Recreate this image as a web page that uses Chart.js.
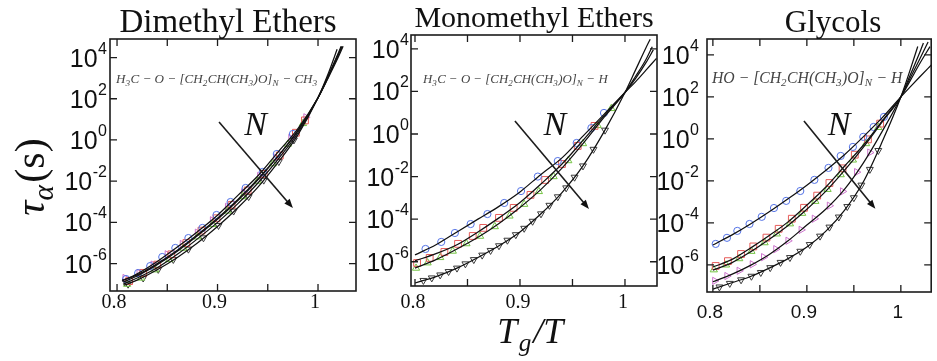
<!DOCTYPE html>
<html>
<head>
<meta charset="utf-8">
<script src="https://cdn.jsdelivr.net/npm/chart.js"></script>
<style>
  html, body { margin: 0; padding: 0; background: #fff; }
  #wrap { position: relative; width: 937px; height: 361px; overflow: hidden; }
  #wrap canvas { position: absolute; left: 0; top: 0; }
</style>
</head>
<body>
<div id="wrap">
  <canvas id="dme" width="937" height="361"></canvas>
  <canvas id="mme" width="937" height="361"></canvas>
  <canvas id="gly" width="937" height="361"></canvas>
</div>
<script>
// ---- data (y values are log10 of tau_alpha in seconds, x is Tg/T) ----
const panelTitles = ['Dimethyl Ethers', 'Monomethyl Ethers', 'Glycols'];
const panelFormulas = [
  'H_3C − O − [CH_2CH(CH_3)O]_N − CH_3',
  'H_3C − O − [CH_2CH(CH_3)O]_N − H',
  'HO − [CH_2CH(CH_3)O]_N − H'
];
const xTickValues = [0.8, 0.85, 0.9, 0.95, 1.0];
const xLabelValues = [0.8, 0.9, 1.0];
const xLabelTexts = ['0.8', '0.9', '1'];
const yTickExponents = [4, 2, 0, -2, -4, -6];
const xRanges = [[0.793, 1.0378], [0.7962, 1.0305], [0.79375, 1.0323]];
const yRanges = [[-7.33, 4.90], [-7.14, 4.65], [-7.29, 4.76]];
// arrow "N" annotations, in data units
const arrowFrom = [[0.9015, 0.87], [0.8952, 0.61], [0.8969, 0.86]];
const arrowTo = [[0.975, -3.3], [0.9657, -3.52], [0.9729, -3.33]];
const nLabelAt = [[0.938, 0.24], [0.9333, -0.05], [0.9344, 0.19]];

// Dimethyl ethers: fits
const dmeFitCircle = [[0.805,-6.85],[0.82,-6.5],[0.84,-5.9],[0.86,-5.2],[0.88,-4.45],[0.90,-3.65],[0.92,-2.7],[0.94,-1.75],[0.96,-0.6],[0.98,0.55],[1.0,2.05],[1.01,3.0],[1.02,4.0],[1.025,4.55]];
const dmeFitSquare = [[0.806,-6.9],[0.82,-6.6],[0.84,-6.05],[0.86,-5.4],[0.88,-4.65],[0.90,-3.85],[0.92,-2.95],[0.94,-1.95],[0.96,-0.8],[0.98,0.45],[1.0,2.05],[1.01,3.05],[1.02,4.1],[1.024,4.55]];
const dmeFitTriUp = [[0.806,-7.0],[0.82,-6.7],[0.84,-6.2],[0.86,-5.55],[0.88,-4.8],[0.90,-4.0],[0.92,-3.1],[0.94,-2.1],[0.96,-0.95],[0.98,0.35],[1.0,2.05],[1.01,3.1],[1.02,4.2],[1.023,4.55]];
const dmeFitTriSide = [[0.805,-6.8],[0.82,-6.55],[0.84,-6.0],[0.86,-5.35],[0.88,-4.6],[0.90,-3.8],[0.92,-2.9],[0.94,-1.9],[0.96,-0.8],[0.98,0.45],[1.0,2.05],[1.01,3.05],[1.02,4.15],[1.0235,4.5]];
const dmeFitTriDown = [[0.807,-7.05],[0.82,-6.8],[0.84,-6.3],[0.86,-5.7],[0.88,-5.0],[0.90,-4.2],[0.92,-3.3],[0.94,-2.3],[0.96,-1.1],[0.98,0.25],[1.0,2.05],[1.01,3.2],[1.019,4.4]];
// Dimethyl ethers: measured points
const dmeCircle = [[0.809,-6.75],[0.821,-6.46],[0.833,-6.12],[0.845,-5.68],[0.858,-5.24],[0.871,-4.76],[0.885,-4.27],[0.899,-3.64],[0.913,-3.01],[0.928,-2.33],[0.945,-1.55],[0.959,-0.68],[0.975,0.29]];
const dmeSquare = [[0.812,-6.85],[0.826,-6.45],[0.840,-6.05],[0.854,-5.55],[0.869,-5.0],[0.884,-4.4],[0.899,-3.8],[0.914,-3.15],[0.930,-2.45],[0.946,-1.65],[0.962,-0.75],[0.978,0.35],[0.987,0.95]];
const dmeTriUp = [[0.810,-7.0],[0.824,-6.7],[0.838,-6.3],[0.852,-5.8],[0.866,-5.25],[0.880,-4.7],[0.895,-4.1],[0.910,-3.45],[0.925,-2.75],[0.940,-2.0],[0.955,-1.15],[0.970,-0.2],[0.985,0.8]];
const dmeTriSide = [[0.808,-6.7],[0.822,-6.45],[0.836,-6.05],[0.850,-5.55],[0.865,-5.05],[0.880,-4.5],[0.895,-3.9],[0.910,-3.25],[0.926,-2.55],[0.942,-1.75],[0.958,-0.85],[0.973,0.1],[0.988,1.1]];
const dmeTriDown = [[0.811,-7.0],[0.826,-6.7],[0.841,-6.28],[0.856,-5.8],[0.871,-5.3],[0.886,-4.75],[0.901,-4.15],[0.916,-3.45],[0.931,-2.75],[0.946,-1.95],[0.961,-1.05],[0.976,0.0]];

// Monomethyl ethers: fits
const mmeFitCircle = [[0.80,-5.68],[0.82,-5.2],[0.84,-4.6],[0.86,-4.0],[0.88,-3.4],[0.90,-2.72],[0.92,-1.9],[0.94,-1.12],[0.96,-0.1],[0.98,0.92],[1.0,1.95],[1.01,2.45],[1.02,3.0],[1.03,3.55]];
const mmeFitSquare = [[0.80,-5.96],[0.82,-5.62],[0.84,-5.2],[0.86,-4.6],[0.88,-3.94],[0.90,-3.22],[0.92,-2.35],[0.94,-1.41],[0.96,-0.3],[0.98,0.85],[1.0,1.95],[1.01,2.6],[1.02,3.35],[1.027,3.95]];
const mmeFitTriUp = [[0.80,-6.3],[0.82,-5.9],[0.84,-5.4],[0.86,-4.85],[0.88,-4.2],[0.90,-3.45],[0.92,-2.6],[0.94,-1.6],[0.96,-0.45],[0.98,0.78],[1.0,1.95],[1.01,2.7],[1.02,3.5],[1.026,4.1]];
const mmeFitTriDown = [[0.80,-7.0],[0.82,-6.7],[0.84,-6.3],[0.86,-5.8],[0.88,-5.25],[0.90,-4.6],[0.92,-3.75],[0.94,-2.75],[0.96,-1.5],[0.98,0.1],[1.0,1.95],[1.01,3.0],[1.02,4.05],[1.024,4.45]];
// Monomethyl ethers: measured points
const mmeCircle = [[0.810,-5.4],[0.825,-5.07],[0.838,-4.65],[0.853,-4.23],[0.869,-3.76],[0.885,-3.24],[0.901,-2.68],[0.917,-2.0],[0.936,-1.27],[0.954,-0.42],[0.968,0.28],[0.980,0.99]];
const mmeSquare = [[0.802,-6.06],[0.814,-5.82],[0.828,-5.54],[0.841,-5.16],[0.855,-4.79],[0.865,-4.41],[0.880,-3.94],[0.894,-3.47],[0.910,-2.86],[0.924,-2.16],[0.940,-1.41],[0.955,-0.56],[0.971,0.38]];
const mmeTriUp = [[0.801,-6.3],[0.812,-6.05],[0.824,-5.8],[0.836,-5.5],[0.849,-5.15],[0.862,-4.8],[0.876,-4.35],[0.890,-3.85],[0.904,-3.3],[0.918,-2.7],[0.932,-2.0],[0.946,-1.25],[0.960,-0.45],[0.974,0.4],[0.987,1.2]];
const mmeTriDown = [[0.808,-6.88],[0.816,-6.76],[0.824,-6.62],[0.832,-6.46],[0.840,-6.3],[0.848,-6.1],[0.856,-5.9],[0.864,-5.69],[0.872,-5.47],[0.880,-5.25],[0.888,-4.99],[0.896,-4.73],[0.904,-4.43],[0.912,-4.1],[0.920,-3.75],[0.928,-3.35],[0.936,-2.95],[0.944,-2.53],[0.952,-2.03],[0.960,-1.5],[0.970,-0.72],[0.981,0.18]];

// Glycols: fits
const glyFitCircle = [[0.80,-5.05],[0.82,-4.58],[0.84,-4.05],[0.86,-3.47],[0.88,-2.85],[0.90,-2.2],[0.92,-1.5],[0.94,-0.75],[0.96,0.1],[0.98,1.0],[1.0,2.0],[1.01,2.48],[1.02,2.95],[1.033,3.55]];
const glyFitSquare = [[0.80,-6.1],[0.82,-5.75],[0.84,-5.2],[0.86,-4.6],[0.88,-3.95],[0.90,-3.15],[0.92,-2.3],[0.94,-1.3],[0.96,-0.3],[0.98,0.85],[1.0,2.0],[1.01,2.78],[1.02,3.58],[1.031,4.4]];
const glyFitTriUp = [[0.80,-6.25],[0.82,-5.9],[0.84,-5.38],[0.86,-4.78],[0.88,-4.12],[0.90,-3.35],[0.92,-2.5],[0.94,-1.5],[0.96,-0.4],[0.98,0.8],[1.0,2.0],[1.01,2.9],[1.02,3.8],[1.029,4.62]];
const glyFitTriSide = [[0.80,-6.8],[0.82,-6.45],[0.84,-6.02],[0.86,-5.5],[0.88,-4.85],[0.90,-4.1],[0.92,-3.35],[0.94,-2.4],[0.96,-1.15],[0.98,0.35],[1.0,2.0],[1.01,3.05],[1.02,4.1],[1.024,4.57]];
const glyFitTriDown = [[0.80,-7.15],[0.82,-6.85],[0.84,-6.55],[0.86,-6.15],[0.88,-5.7],[0.90,-5.15],[0.92,-4.4],[0.94,-3.4],[0.96,-2.05],[0.98,-0.15],[1.0,2.0],[1.01,3.3],[1.018,4.4]];
// Glycols: measured points
const glyCircle = [[0.803,-5.0],[0.815,-4.71],[0.826,-4.38],[0.839,-4.05],[0.852,-3.71],[0.865,-3.29],[0.878,-2.95],[0.893,-2.48],[0.908,-1.95],[0.923,-1.38],[0.936,-0.81],[0.949,-0.38],[0.960,0.10],[0.971,0.57],[0.982,1.05]];
const glySquare = [[0.803,-6.05],[0.816,-5.82],[0.830,-5.48],[0.843,-5.12],[0.857,-4.7],[0.870,-4.28],[0.884,-3.8],[0.897,-3.28],[0.911,-2.7],[0.924,-2.1],[0.938,-1.4],[0.951,-0.75],[0.965,-0.02],[0.978,0.73]];
const glyTriUp = [[0.801,-6.23],[0.814,-6.0],[0.828,-5.7],[0.841,-5.35],[0.855,-4.94],[0.868,-4.52],[0.882,-4.04],[0.895,-3.54],[0.909,-2.97],[0.922,-2.4],[0.936,-1.7],[0.949,-1.0],[0.963,-0.22],[0.976,0.55]];
const glyTriSide = [[0.802,-6.76],[0.815,-6.53],[0.828,-6.28],[0.842,-5.97],[0.854,-5.63],[0.867,-5.25],[0.880,-4.85],[0.894,-4.33],[0.908,-3.8],[0.924,-3.18],[0.938,-2.5],[0.953,-1.58],[0.967,-0.65]];
const glyTriDown = [[0.807,-7.05],[0.818,-6.88],[0.830,-6.71],[0.841,-6.54],[0.851,-6.36],[0.861,-6.13],[0.872,-5.88],[0.882,-5.65],[0.893,-5.35],[0.903,-5.03],[0.914,-4.63],[0.924,-4.2],[0.934,-3.72],[0.943,-3.22],[0.950,-2.8],[0.958,-2.2],[0.967,-1.45],[0.976,-0.55]];

// ---- styles ----
const W = 937, H = 361;
const SERIF = '"Liberation Serif", "DejaVu Serif", serif';
const SANS = '"Liberation Sans", Arial, sans-serif';
const markerStyles = {
  circle: { color: '#5372e6', pointStyle: 'circle', radius: 3.6, rotation: 0 },
  square: { color: '#e65c5a', pointStyle: 'rect', radius: 4.8, rotation: 0 },
  triUp: { color: '#74c444', pointStyle: 'triangle', radius: 4.2, rotation: 0 },
  triSide: { color: '#cc74cc', pointStyle: 'triangle', radius: 4.2, rotation: 90 },
  triDown: { color: '#3a3a3a', pointStyle: 'triangle', radius: 4.0, rotation: 180 }
};

const toXY = arr => arr.map(p => ({ x: p[0], y: p[1] }));

function fitSet(points) {
  return {
    data: toXY(points), order: 0,
    borderColor: '#111', borderWidth: 1.25, pointRadius: 0,
    fill: false, cubicInterpolationMode: 'monotone'
  };
}
function markerSet(points, kind) {
  const s = markerStyles[kind];
  return {
    data: toXY(points), order: 1, showLine: false,
    pointStyle: s.pointStyle, pointRadius: s.radius, pointRotation: s.rotation,
    pointBorderColor: s.color, pointBackgroundColor: 'rgba(0,0,0,0)', pointBorderWidth: 1
  };
}

// math-like text: "_c" makes the next char a subscript
function mathRuns(str) {
  const runs = [];
  for (let i = 0; i < str.length; i++) {
    if (str[i] === '_') { runs.push({ t: str[i + 1], sub: true }); i++; continue; }
    const last = runs[runs.length - 1];
    if (last && !last.sub) last.t += str[i]; else runs.push({ t: str[i], sub: false });
  }
  return runs;
}
function mathWidth(ctx, runs, size, gap) {
  let w = 0;
  runs.forEach(r => {
    ctx.font = 'italic ' + (r.sub ? size * 0.7 : size) + 'px ' + SERIF;
    w += ctx.measureText(r.t).width + (r.sub ? 0.5 : 0) + (gap || 0);
  });
  return w;
}
function drawMath(ctx, runs, x, y, size, gap) {
  ctx.textAlign = 'left';
  runs.forEach(r => {
    const s = r.sub ? size * 0.7 : size;
    ctx.font = 'italic ' + s + 'px ' + SERIF;
    ctx.fillText(r.t, x, r.sub ? y + size * 0.22 : y);
    x += ctx.measureText(r.t).width + (r.sub ? 0.5 : 0) + (gap || 0);
  });
  return x;
}

function decorPlugin(i, cfg) {
  return {
    id: 'decor',
    afterDraw(chart) {
      const { ctx, chartArea: a, scales: { x, y } } = chart;
      ctx.save();
      ctx.fillStyle = '#111';
      ctx.strokeStyle = '#1c1c1c';

      // frame
      ctx.lineWidth = 1.6;
      ctx.strokeRect(a.left, a.top, a.right - a.left, a.bottom - a.top);

      // inward ticks on all four sides
      ctx.lineWidth = 1.3;
      ctx.beginPath();
      xTickValues.forEach(v => {
        const px = x.getPixelForValue(v);
        ctx.moveTo(px, a.bottom); ctx.lineTo(px, a.bottom - 7);
        ctx.moveTo(px, a.top); ctx.lineTo(px, a.top + 7);
      });
      yTickExponents.forEach(e => {
        const py = y.getPixelForValue(e);
        ctx.moveTo(a.left, py); ctx.lineTo(a.left + 7, py);
        ctx.moveTo(a.right, py); ctx.lineTo(a.right - 7, py);
      });
      ctx.stroke();

      // y tick labels 10^n
      ctx.textBaseline = 'alphabetic';
      yTickExponents.forEach(e => {
        const py = y.getPixelForValue(e);
        const right = a.left - cfg.yLabelGap;
        ctx.font = '16px ' + SANS;
        const sw = ctx.measureText(String(e)).width;
        ctx.textAlign = 'left';
        ctx.fillText(String(e), right - sw, py - 4);
        ctx.font = '25px ' + SANS;
        ctx.textAlign = 'right';
        ctx.fillText('10', right - sw - 0.5, py + 9);
      });

      // x tick labels
      ctx.font = cfg.xFont;
      ctx.textAlign = 'center';
      xLabelValues.forEach((v, k) => {
        ctx.fillText(xLabelTexts[k], x.getPixelForValue(v) + cfg.xLabelDx, a.bottom + cfg.xLabelDy);
      });

      // panel title
      ctx.font = cfg.titleFont;
      ctx.fillText(panelTitles[i], cfg.titleX, cfg.titleY);

      // chemical formula
      const runs = mathRuns(panelFormulas[i]);
      const size = 12 * cfg.formulaWidth / mathWidth(ctx, runs, 12);
      ctx.fillStyle = '#444';
      drawMath(ctx, runs, a.left + cfg.formulaDx, a.top + cfg.formulaDy, size);
      ctx.fillStyle = '#111';

      // arrow with N
      const x0 = x.getPixelForValue(arrowFrom[i][0]), y0 = y.getPixelForValue(arrowFrom[i][1]);
      const x1 = x.getPixelForValue(arrowTo[i][0]), y1 = y.getPixelForValue(arrowTo[i][1]);
      const ang = Math.atan2(y1 - y0, x1 - x0);
      ctx.lineWidth = 1.6;
      ctx.beginPath();
      ctx.moveTo(x0, y0);
      ctx.lineTo(x1 - 6 * Math.cos(ang), y1 - 6 * Math.sin(ang));
      ctx.stroke();
      ctx.beginPath();
      ctx.moveTo(x1, y1);
      ctx.lineTo(x1 - 9 * Math.cos(ang) + 3.5 * Math.sin(ang), y1 - 9 * Math.sin(ang) - 3.5 * Math.cos(ang));
      ctx.lineTo(x1 - 9 * Math.cos(ang) - 3.5 * Math.sin(ang), y1 - 9 * Math.sin(ang) + 3.5 * Math.cos(ang));
      ctx.closePath();
      ctx.fill();
      ctx.font = 'italic 34px ' + SERIF;
      ctx.textAlign = 'center';
      ctx.fillText('N', x.getPixelForValue(nLabelAt[i][0]), y.getPixelForValue(nLabelAt[i][1]));

      // shared axis titles, drawn once
      if (cfg.axisTitles) {
        const tx = mathRuns('T_g/T');
        const tw = mathWidth(ctx, tx, 36, 1.5);
        drawMath(ctx, tx, 531 - tw / 2, 343, 36, 1.5);

        ctx.save();
        ctx.translate(44, 177);
        ctx.rotate(-Math.PI / 2);
        const tau = mathRuns('τ_α');
        ctx.font = '42px ' + SERIF;
        const pw = ctx.measureText('(s)').width;
        const total = mathWidth(ctx, tau, 42) + pw + 2;
        const xe = drawMath(ctx, tau, -total / 2, 0, 42);
        ctx.font = '42px ' + SERIF;
        ctx.textAlign = 'left';
        ctx.fillText('(s)', xe + 2, 0);
        ctx.restore();
      }
      ctx.restore();
    }
  };
}

const panels = [
  { id: 'dme', box: [110, 39, 356, 291],
    sets: [fitSet(dmeFitCircle), fitSet(dmeFitSquare), fitSet(dmeFitTriUp), fitSet(dmeFitTriSide), fitSet(dmeFitTriDown),
           markerSet(dmeCircle, 'circle'), markerSet(dmeSquare, 'square'), markerSet(dmeTriUp, 'triUp'),
           markerSet(dmeTriSide, 'triSide'), markerSet(dmeTriDown, 'triDown')],
    cfg: { yLabelGap: 3, xFont: '20px ' + SERIF, xLabelDx: -3, xLabelDy: 17,
           titleFont: '33px ' + SERIF, titleX: 228, titleY: 32,
           formulaDx: 6, formulaDy: 44, formulaWidth: 202, axisTitles: true } },
  { id: 'mme', box: [411, 35, 657, 286],
    sets: [fitSet(mmeFitCircle), fitSet(mmeFitSquare), fitSet(mmeFitTriUp), fitSet(mmeFitTriDown),
           markerSet(mmeCircle, 'circle'), markerSet(mmeSquare, 'square'), markerSet(mmeTriUp, 'triUp'),
           markerSet(mmeTriDown, 'triDown')],
    cfg: { yLabelGap: 2, xFont: '20px ' + SERIF, xLabelDx: -2, xLabelDy: 22,
           titleFont: '30px ' + SERIF, titleX: 534, titleY: 27,
           formulaDx: 12, formulaDy: 48, formulaWidth: 185, axisTitles: false } },
  { id: 'gly', box: [707, 39, 936, 292],
    sets: [fitSet(glyFitCircle), fitSet(glyFitSquare), fitSet(glyFitTriUp), fitSet(glyFitTriSide), fitSet(glyFitTriDown),
           markerSet(glyCircle, 'circle'), markerSet(glySquare, 'square'), markerSet(glyTriUp, 'triUp'),
           markerSet(glyTriSide, 'triSide'), markerSet(glyTriDown, 'triDown')],
    cfg: { yLabelGap: 8, xFont: '19px ' + SANS, xLabelDx: -3, xLabelDy: 26,
           titleFont: '31px ' + SERIF, titleX: 833, titleY: 32,
           formulaDx: 5, formulaDy: 44, formulaWidth: 191, axisTitles: false } }
];

panels.forEach((p, i) => {
  new Chart(document.getElementById(p.id), {
    type: 'line',
    data: { datasets: p.sets },
    options: {
      responsive: false,
      animation: false,
      events: [],
      layout: { padding: { left: p.box[0], top: p.box[1], right: W - p.box[2], bottom: H - p.box[3] } },
      plugins: { legend: { display: false }, tooltip: { enabled: false } },
      scales: {
        x: { type: 'linear', min: xRanges[i][0], max: xRanges[i][1], display: false },
        y: { type: 'linear', min: yRanges[i][0], max: yRanges[i][1], display: false }
      }
    },
    plugins: [decorPlugin(i, p.cfg)]
  });
});
</script>
</body>
</html>
